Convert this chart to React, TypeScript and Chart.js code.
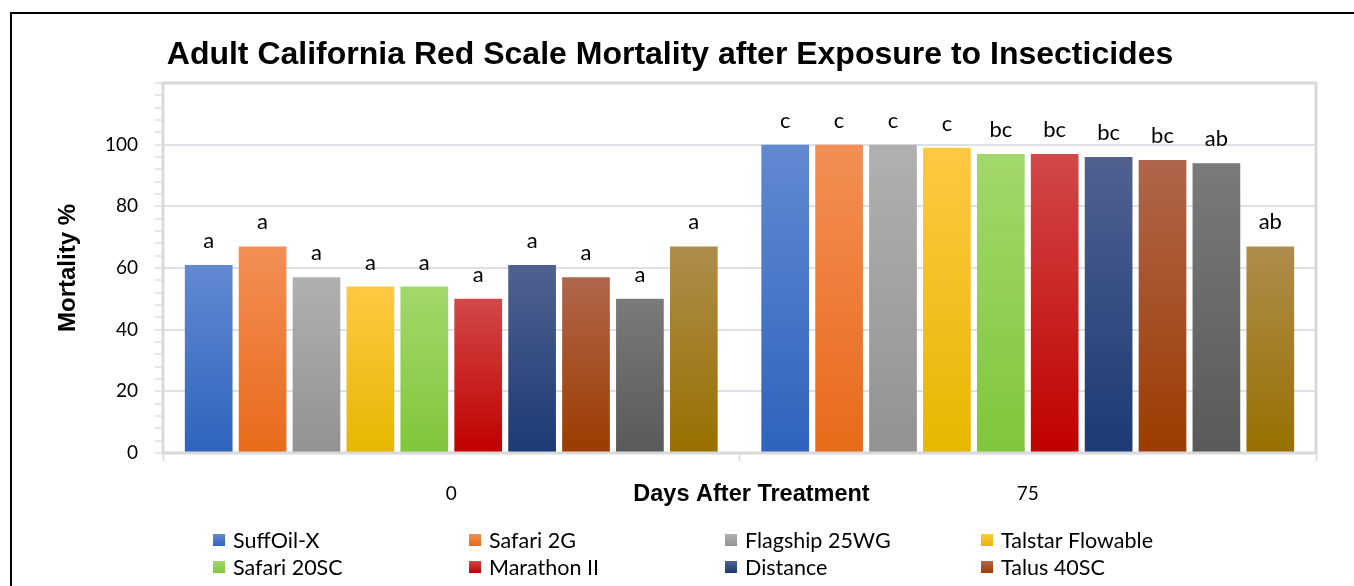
import React, { useEffect, useRef } from 'react';
import { Chart, registerables } from 'chart.js';

Chart.register(...registerables);

// ---------- data ----------
const categories = ['0', '75'];

const seriesNames = [
  'SuffOil-X',
  'Safari 2G',
  'Flagship 25WG',
  'Talstar Flowable',
  'Safari 20SC',
  'Marathon II',
  'Distance',
  'Talus 40SC',
  'Movento',
  'Untreated Control',
];

const suffOilX = [61, 100];
const safari2G = [67, 100];
const flagship25WG = [57, 100];
const talstarFlowable = [54, 99];
const safari20SC = [54, 97];
const marathonII = [50, 97];
const distance = [61, 96];
const talus40SC = [57, 95];
const movento = [50, 94];
const untreated = [67, 67];

const seriesValues = [
  suffOilX, safari2G, flagship25WG, talstarFlowable, safari20SC,
  marathonII, distance, talus40SC, movento, untreated,
];

// significance letters, one list per category
const lettersDay0 = ['a', 'a', 'a', 'a', 'a', 'a', 'a', 'a', 'a', 'a'];
const lettersDay75 = ['c', 'c', 'c', 'c', 'bc', 'bc', 'bc', 'bc', 'ab', 'ab'];
const letters = [lettersDay0, lettersDay75];

const yTickLabels = [0, 20, 40, 60, 80, 100];

// gradient colours (top, bottom)
const topColors = ['#6289d1', '#f38f55', '#b0b0b0', '#ffc843', '#a2d86b', '#d24848', '#506190', '#b0664c', '#7a7a7a', '#ae8d4c'];
const bottomColors = ['#2f63be', '#e86a1a', '#929292', '#e6b700', '#80c63a', '#c00000', '#1c3a74', '#9b3c00', '#595959', '#977000'];

const TITLE = 'Adult California Red Scale Mortality after Exposure to Insecticides';
const X_TITLE = 'Days After Treatment';
const Y_TITLE = 'Mortality %';

const SANS = "'Liberation Sans', Arial, sans-serif";
const BODY = "Lato, 'Open Sans', sans-serif";

function barGradient(ctx: any, i: number) {
  const chart = ctx.chart;
  const y = chart.scales && chart.scales.y;
  if (!chart.chartArea || !y || ctx.type !== 'data') return bottomColors[i];
  const v = ctx.raw as number;
  const top = y.getPixelForValue(v);
  const base = y.getPixelForValue(0);
  if (!isFinite(top) || !isFinite(base) || top === base) return bottomColors[i];
  const g = chart.ctx.createLinearGradient(0, top, 0, base);
  g.addColorStop(0, topColors[i]);
  g.addColorStop(1, bottomColors[i]);
  return g;
}

const plotFramePlugin = {
  id: 'plotFrame',
  afterDatasetsDraw(chart: any) {
    const { ctx, chartArea } = chart;
    ctx.save();
    ctx.strokeStyle = '#d9d9d9';
    ctx.lineWidth = 3;
    ctx.strokeRect(chartArea.left, chartArea.top, chartArea.right - chartArea.left, chartArea.bottom - chartArea.top);
    ctx.restore();
  },
};

const letterPlugin = {
  id: 'letters',
  afterDatasetsDraw(chart: any) {
    const { ctx } = chart;
    ctx.save();
    ctx.font = `22px ${BODY}`;
    ctx.fillStyle = '#000';
    ctx.textAlign = 'center';
    ctx.textBaseline = 'alphabetic';
    chart.data.datasets.forEach((_ds: any, di: number) => {
      const meta = chart.getDatasetMeta(di);
      meta.data.forEach((bar: any, ci: number) => {
        ctx.fillText(letters[ci][di], bar.x, bar.y - 17);
      });
    });
    ctx.restore();
  },
};

const xTitlePlugin = {
  id: 'xTitle',
  afterDraw(chart: any) {
    const { ctx, chartArea } = chart;
    ctx.save();
    ctx.font = `bold 23.5px ${SANS}`;
    ctx.fillStyle = '#000';
    ctx.textAlign = 'center';
    ctx.textBaseline = 'middle';
    ctx.fillText(X_TITLE, (chartArea.left + chartArea.right) / 2 + 12, chartArea.bottom + 42);
    ctx.restore();
  },
};

const gridLegendPlugin = {
  id: 'gridLegend',
  afterDraw(chart: any) {
    const { ctx } = chart;
    const colX0 = 213;
    const colW = 256;
    const rowY0 = 540;
    const rowH = 27;
    const box = 12;
    ctx.save();
    ctx.font = `21.5px ${BODY}`;
    ctx.textAlign = 'left';
    ctx.textBaseline = 'middle';
    chart.data.datasets.forEach((ds: any, i: number) => {
      const col = i % 4;
      const row = Math.floor(i / 4);
      const x = colX0 + col * colW;
      const y = rowY0 + row * rowH;
      const g = ctx.createLinearGradient(0, y - box / 2, 0, y + box / 2);
      g.addColorStop(0, topColors[i]);
      g.addColorStop(1, bottomColors[i]);
      ctx.fillStyle = g;
      ctx.fillRect(x, y - box / 2, box, box);
      ctx.fillStyle = '#000';
      ctx.fillText(ds.label, x + 20, y + 1);
    });
    ctx.restore();
  },
};

export default function App() {
  const canvasRef = useRef<HTMLCanvasElement | null>(null);

  useEffect(() => {
    if (!canvasRef.current) return;
    Chart.defaults.font.family = BODY;
    const chart = new Chart(canvasRef.current, {
      type: 'bar',
      data: {
        labels: categories,
        datasets: seriesNames.map((name, i) => ({
          label: name,
          data: seriesValues[i],
          backgroundColor: (ctx: any) => barGradient(ctx, i),
          borderWidth: 0,
          categoryPercentage: 0.935,
          barPercentage: 0.885,
        })),
      },
      options: {
        responsive: false,
        animation: false,
        layout: { padding: { left: 24, right: 38, top: 0, bottom: 0 } },
        plugins: {
          legend: { display: false },
          tooltip: { enabled: false },
          title: {
            display: true,
            text: TITLE,
            color: '#000',
            font: { family: SANS, weight: 'bold', size: 32 },
            padding: { top: 36, bottom: 8.6 },
          },
        },
        scales: {
          x: {
            type: 'category',
            offset: true,
            border: { display: false },
            grid: {
              offset: true,
              drawOnChartArea: false,
              drawTicks: true,
              tickLength: 8,
              tickColor: '#d9d9d9',
              tickWidth: 1.5,
            },
            ticks: {
              color: '#000',
              font: { size: 19, family: BODY },
              padding: 21,
            },
            afterFit: (scale: any) => {
              scale.height = 133;
            },
          },
          y: {
            min: 0,
            max: 120,
            border: { display: false },
            grid: {
              color: (c: any) => {
                const v = c.tick ? c.tick.value : -1;
                return v > 0 && v <= 100 && v % 20 === 0 ? '#dde1e7' : 'rgba(0,0,0,0)';
              },
              lineWidth: 2,
              drawTicks: true,
              tickLength: 8,
              tickColor: '#d0d0d0',
              tickWidth: 1,
            },
            ticks: {
              stepSize: 4,
              autoSkip: false,
              color: '#000',
              font: { size: 19, family: BODY },
              padding: 17,
              callback: (v: any) => (yTickLabels.includes(Number(v)) ? String(v) : ''),
            },
            title: {
              display: true,
              text: Y_TITLE,
              color: '#000',
              font: { family: SANS, weight: 'bold', size: 24 },
              padding: { top: 29.6, bottom: 0 },
            },
            afterFit: (scale: any) => {
              scale.width = 139;
            },
          },
        },
      },
      plugins: [plotFramePlugin, letterPlugin, xTitlePlugin, gridLegendPlugin],
    } as any);
    return () => chart.destroy();
  }, []);

  return (
    <div
      style={{
        position: 'fixed',
        left: 0,
        top: 0,
        width: 1354,
        height: 586,
        overflow: 'hidden',
        background: '#fff',
      }}
    >
      <div
        style={{
          position: 'absolute',
          left: 10,
          top: 12,
          width: 2000,
          height: 2000,
          border: '2px solid #000',
          boxSizing: 'border-box',
        }}
      />
      <canvas
        ref={canvasRef}
        width={1354}
        height={586}
        style={{ position: 'absolute', left: 0, top: 0, width: 1354, height: 586 }}
      />
    </div>
  );
}
